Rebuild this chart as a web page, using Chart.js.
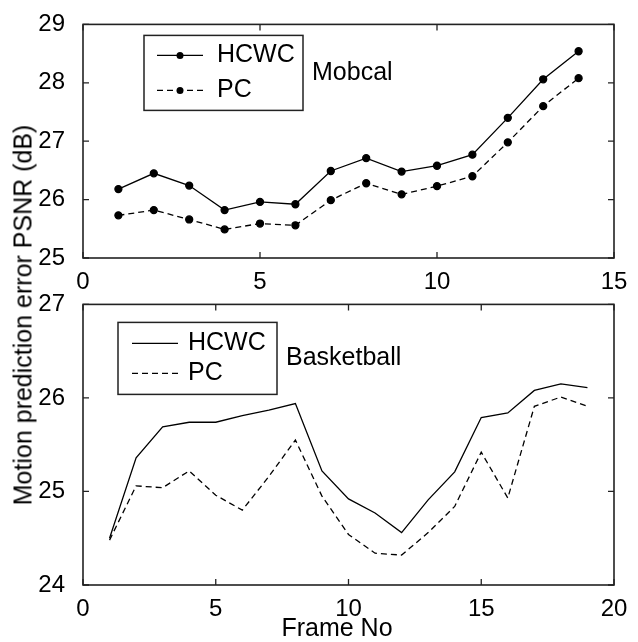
<!DOCTYPE html>
<html>
<head>
<meta charset="utf-8">
<script src="https://cdn.jsdelivr.net/npm/chart.js@4.4.0/dist/chart.umd.min.js"></script>
<style>
  body { margin: 0; background: #fff; }
  #wrap { position: relative; width: 638px; height: 642px; overflow: hidden; }
  canvas { position: absolute; left: 0; }
  #topChart { top: 0; }
  #bottomChart { top: 280px; }
  .label { position: absolute; font-family: "Liberation Sans", Arial, sans-serif; font-size: 25px; color: #000; white-space: nowrap; }
  #ytitle { left: 23px; top: 315px; transform: translate(-50%, -50%) rotate(-90deg); }
  #xtitle { left: 337px; top: 627px; transform: translate(-50%, -50%); }
</style>
</head>
<body>
<div id="wrap">
  <canvas id="topChart" width="638" height="300"></canvas>
  <canvas id="bottomChart" width="638" height="362"></canvas>
  <div class="label" id="ytitle">Motion prediction error PSNR (dB)</div>
  <div class="label" id="xtitle">Frame No</div>
</div>
<script>
// Mobcal
const mobcalFrames = [1, 2, 3, 4, 5, 6, 7, 8, 9, 10, 11, 12, 13, 14];
const mobcalHCWC = [26.18, 26.45, 26.24, 25.82, 25.96, 25.92, 26.49, 26.71, 26.48, 26.58, 26.77, 27.40, 28.06, 28.54];
const mobcalPC = [25.73, 25.82, 25.66, 25.49, 25.59, 25.56, 25.99, 26.28, 26.09, 26.23, 26.40, 26.98, 27.60, 28.08];

// Basketball
const basketFrames = [1, 2, 3, 4, 5, 6, 7, 8, 9, 10, 11, 12, 13, 14, 15, 16, 17, 18, 19];
const basketHCWC = [24.50, 25.36, 25.69, 25.74, 25.74, 25.81, 25.87, 25.94, 25.22, 24.92, 24.77, 24.56, 24.91, 25.21, 25.79, 25.84, 26.08, 26.15, 26.11];
const basketPC = [24.48, 25.06, 25.04, 25.22, 24.96, 24.80, 25.16, 25.55, 24.95, 24.54, 24.34, 24.32, 24.56, 24.84, 25.42, 24.93, 25.91, 26.01, 25.91];

const topXTicks = [0, 5, 10, 15];
const topYTicks = [25, 26, 27, 28, 29];
const bottomXTicks = [0, 5, 10, 15, 20];
const bottomYTicks = [24, 25, 26, 27];

const FONT = '"Liberation Sans", Arial, sans-serif';
Chart.defaults.font.family = FONT;
Chart.defaults.font.size = 24;
Chart.defaults.color = "#000";

function pairs(xs, ys) {
  return xs.map((x, i) => ({ x: x, y: ys[i] }));
}

// frame, inner ticks, legend box and note, drawn MATLAB style
const matlabPlugin = {
  id: "matlab",
  afterDraw(chart, args, opts) {
    const { ctx, chartArea: a, scales } = chart;
    ctx.save();
    ctx.strokeStyle = "#222";
    ctx.lineWidth = 1.6;
    ctx.strokeRect(a.left, a.top, a.right - a.left, a.bottom - a.top);

    ctx.lineWidth = 1.3;
    ctx.beginPath();
    scales.x.ticks.forEach((t) => {
      const px = scales.x.getPixelForValue(t.value);
      ctx.moveTo(px, a.bottom); ctx.lineTo(px, a.bottom - 6);
      ctx.moveTo(px, a.top); ctx.lineTo(px, a.top + 6);
    });
    scales.y.ticks.forEach((t) => {
      const py = scales.y.getPixelForValue(t.value);
      ctx.moveTo(a.left, py); ctx.lineTo(a.left + 6, py);
      ctx.moveTo(a.right, py); ctx.lineTo(a.right - 6, py);
    });
    ctx.stroke();

    // legend
    const lx = a.left + opts.dx, ly = a.top + opts.dy;
    ctx.fillStyle = "#fff";
    ctx.fillRect(lx, ly, opts.w, opts.h);
    ctx.strokeStyle = "#222";
    ctx.lineWidth = 1.5;
    ctx.strokeRect(lx, ly, opts.w, opts.h);

    ctx.font = "25px " + FONT;
    ctx.textBaseline = "middle";
    ctx.textAlign = "left";
    chart.data.datasets.forEach((ds, i) => {
      const y = ly + opts.rows[i];
      ctx.strokeStyle = "#000";
      ctx.lineWidth = 1.3;
      ctx.setLineDash(ds.borderDash || []);
      ctx.beginPath();
      ctx.moveTo(lx + opts.sx0, y);
      ctx.lineTo(lx + opts.sx1, y);
      ctx.stroke();
      ctx.setLineDash([]);
      if (ds.pointRadius > 0) {
        ctx.fillStyle = "#000";
        ctx.beginPath();
        ctx.arc(lx + (opts.sx0 + opts.sx1) / 2, y, ds.pointRadius, 0, Math.PI * 2);
        ctx.fill();
      }
      ctx.fillStyle = "#000";
      ctx.fillText(ds.label, lx + opts.tx, y);
    });
    ctx.fillText(opts.note, lx + opts.w + 9, ly + (opts.rows[0] + opts.rows[1]) / 2);
    ctx.restore();
  },
};

function makeOptions(xMax, yMin, yMax, padTop, xHeight, legend) {
  return {
    responsive: false,
    animation: false,
    layout: { padding: { top: padTop, right: 24, left: 0, bottom: 0 } },
    plugins: {
      legend: { display: false },
      tooltip: { enabled: false },
      matlab: legend,
    },
    scales: {
      x: {
        type: "linear",
        min: 0,
        max: xMax,
        grid: { display: false },
        border: { display: false },
        ticks: { stepSize: 5, padding: 2, maxRotation: 0, autoSkip: false },
        afterFit(scale) { scale.height = xHeight; },
      },
      y: {
        min: yMin,
        max: yMax,
        grid: { display: false },
        border: { display: false },
        ticks: { stepSize: 1, padding: 10, autoSkip: false },
        afterFit(scale) { scale.width = 83; },
      },
    },
  };
}

new Chart(document.getElementById("topChart"), {
  type: "line",
  data: {
    datasets: [
      {
        label: "HCWC",
        data: pairs(mobcalFrames, mobcalHCWC),
        borderColor: "#000",
        backgroundColor: "#000",
        borderWidth: 1.3,
        pointRadius: 3.5,
        tension: 0,
      },
      {
        label: "PC",
        data: pairs(mobcalFrames, mobcalPC),
        borderColor: "#000",
        backgroundColor: "#000",
        borderWidth: 1.3,
        borderDash: [6, 4],
        pointRadius: 3.5,
        tension: 0,
      },
    ],
  },
  options: makeOptions(topXTicks[topXTicks.length - 1], topYTicks[0], topYTicks[topYTicks.length - 1], 15, 42,
    { dx: 61, dy: 11, w: 159, h: 75, rows: [20, 55], sx0: 13, sx1: 59, tx: 73, note: "Mobcal" }),
  plugins: [matlabPlugin],
});

new Chart(document.getElementById("bottomChart"), {
  type: "line",
  data: {
    datasets: [
      {
        label: "HCWC",
        data: pairs(basketFrames, basketHCWC),
        borderColor: "#000",
        borderWidth: 1.3,
        pointRadius: 0,
        tension: 0,
      },
      {
        label: "PC",
        data: pairs(basketFrames, basketPC),
        borderColor: "#000",
        borderWidth: 1.3,
        borderDash: [6, 4],
        pointRadius: 0,
        tension: 0,
      },
    ],
  },
  options: makeOptions(bottomXTicks[bottomXTicks.length - 1], bottomYTicks[0], bottomYTicks[bottomYTicks.length - 1], 23, 57,
    { dx: 35, dy: 18, w: 159, h: 72, rows: [21, 51], sx0: 14, sx1: 60, tx: 70, note: "Basketball" }),
  plugins: [matlabPlugin],
});
</script>
</body>
</html>
